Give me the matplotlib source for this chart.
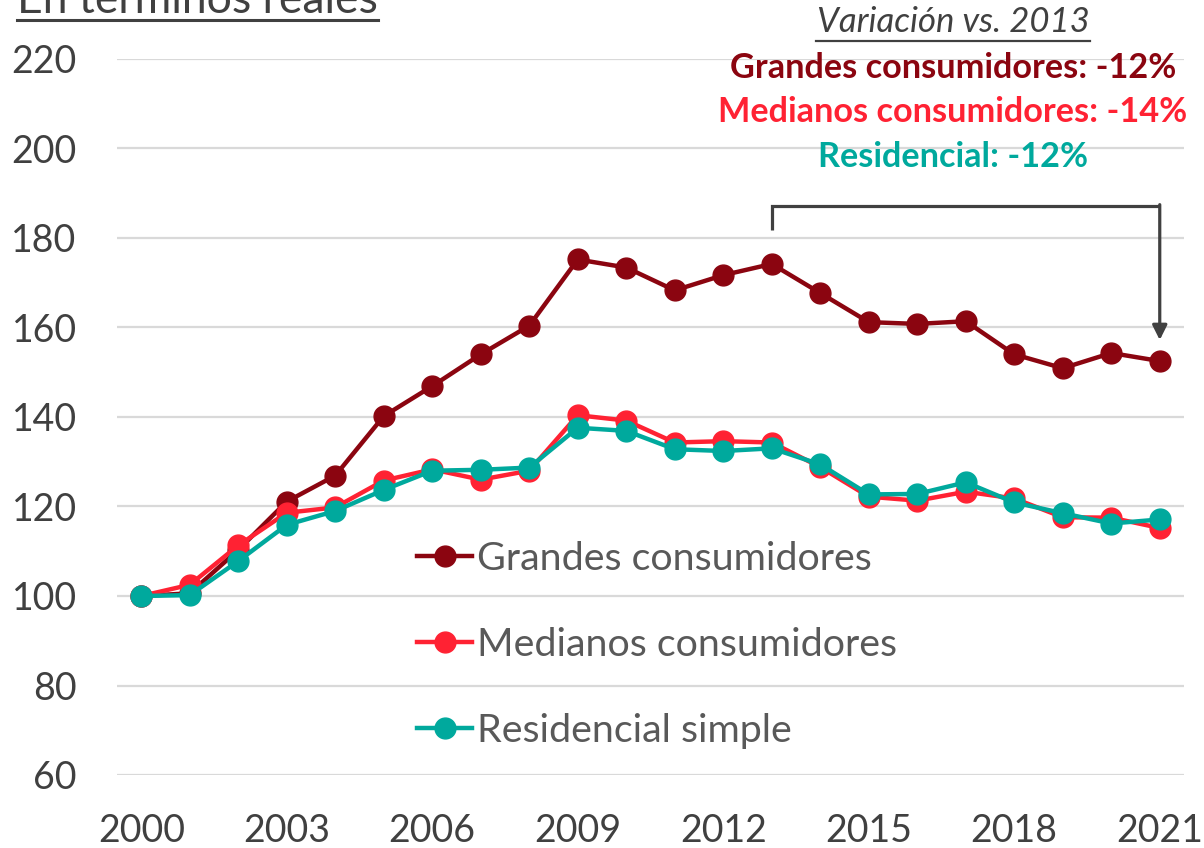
import matplotlib
matplotlib.use("Agg")
import matplotlib.pyplot as plt
from matplotlib.lines import Line2D

plt.rcParams['font.family'] = ['Lato', 'DejaVu Sans']

years = list(range(2000, 2022))
grandes = [100, 100.6, 110.3, 121.1, 126.9, 140.2, 146.9, 154.0, 160.4, 175.2, 173.4,
           168.3, 171.7, 174.2, 167.7, 161.2, 160.8, 161.4, 154.0, 150.9, 154.3, 152.5]
medianos = [100, 102.5, 111.3, 118.6, 119.8, 125.8, 128.3, 126.0, 128.0, 140.4, 139.2,
            134.3, 134.6, 134.3, 128.8, 122.2, 121.3, 123.3, 121.8, 117.6, 117.5, 115.2]
residencial = [100, 100.2, 107.8, 115.9, 119.0, 123.7, 128.0, 128.2, 128.7, 137.6, 136.9,
               132.8, 132.4, 133.0, 129.4, 122.7, 122.8, 125.4, 120.9, 118.5, 116.2, 117.1]
series_labels = ["Grandes consumidores", "Medianos consumidores", "Residencial simple"]
series_colors = ["#8B0510", "#FF2233", "#00A99D"]
xticks = [2000, 2003, 2006, 2009, 2012, 2015, 2018, 2021]
yticks = [60, 80, 100, 120, 140, 160, 180, 200, 220]
title = "En términos reales"
note_title = "Variación vs. 2013"
note_lines = ["Grandes consumidores: -12%", "Medianos consumidores: -14%", "Residencial: -12%"]

W, H = 1204, 848
fig = plt.figure(figsize=(W / 100, H / 100), dpi=100)
ax = fig.add_axes([117 / W, 1 - 775 / H, (1184 - 117) / W, (775 - 59) / H])

for vals, lab, col in zip([grandes, medianos, residencial], series_labels, series_colors):
    ax.plot(years, vals, color=col, lw=3.2, marker='o', markersize=15,
            markeredgecolor=col, label=lab, zorder=3, clip_on=False)

ax.set_xlim(1999.5, 2021.5)
ax.set_ylim(60, 220)
ax.set_xticks(xticks)
ax.set_yticks(yticks)
ax.grid(axis='y', color='#D9D9D9', lw=1.6, zorder=0)
ax.set_axisbelow(True)
for s in ax.spines.values():
    s.set_visible(False)
ax.tick_params(axis='both', length=0, labelsize=27, labelcolor='#404040')
ax.tick_params(axis='y', pad=29)
ax.tick_params(axis='x', pad=27)

leg = ax.legend(loc='center left', bbox_to_anchor=(300 / (1184 - 117), (775 - 645) / (775 - 59)),
                frameon=False, fontsize=28.4, handlelength=1.4, handletextpad=0.12,
                labelspacing=1.27, borderaxespad=0, borderpad=0)
for t in leg.get_texts():
    t.set_color('#595959')

# title
fig.text(17 / W, 1 - 13 / H, title, fontsize=32, color='#404040', ha='left', va='baseline')
fig.add_artist(Line2D([17 / W, 378 / W], [1 - 19.5 / H, 1 - 19.5 / H], color='#404040', lw=2.2))

# note
cx = 953 / W
fig.text(cx, 1 - 22 / H, note_title, fontsize=25, style='italic', color='#404040',
         ha='center', va='center')
fig.add_artist(Line2D([816 / W, 1090 / W], [1 - 40.5 / H, 1 - 40.5 / H], color='#404040', lw=1.6))
for i, (txt, col) in enumerate(zip(note_lines, series_colors)):
    fig.text(cx, 1 - (68 + 44.5 * i) / H, txt, fontsize=24.7, fontweight='bold', color=col,
             ha='center', va='center')

# bracket from 2013 to 2021
y_top = 187.2
ax.plot([2013, 2013, 2021], [181.8, y_top, y_top], color='#404040', lw=2.3,
        solid_capstyle='butt', solid_joinstyle='miter', clip_on=False, zorder=4)
ax.annotate('', xy=(2021, 157.2), xytext=(2021, y_top + 0.25),
            arrowprops=dict(arrowstyle='-|>', color='#404040', lw=2.3,
                            mutation_scale=22, shrinkA=0, shrinkB=0))

fig.savefig('out.png', dpi=100)
